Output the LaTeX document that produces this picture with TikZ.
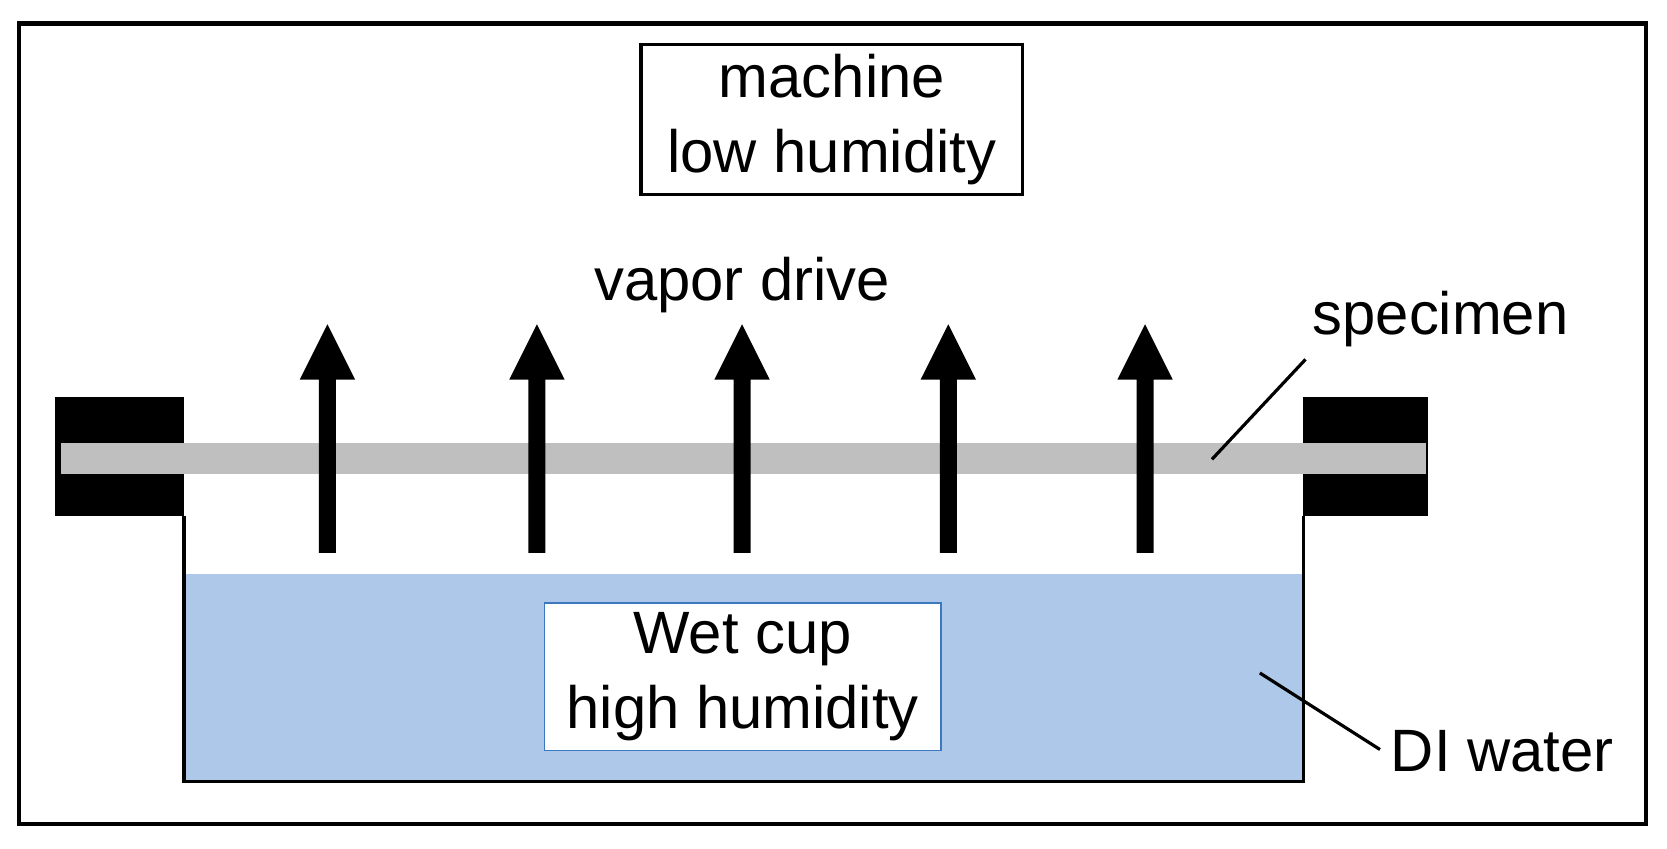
\documentclass[tikz,border=0pt]{standalone}
\usepackage{fontspec}
\setmainfont{Liberation Sans}
\begin{document}
\begin{tikzpicture}[x=0.02cm,y=-0.02cm,
  lbl/.style={font=\fontsize{32}{40}\selectfont,align=center,inner sep=0pt},
  water/.style={fill={rgb,255:red,173;green,200;blue,232}}]
\useasboundingbox (0,0) rectangle (1568,798);
\draw[line width=4*0.567pt] (18,22) rectangle (1548,775);
% water and cup
\fill[water] (173,540) rectangle (1226,735);
\draw[line width=3*0.567pt] (173,485) -- (173,735) -- (1226,735) -- (1226,485);
% clamps
\fill (52,373) rectangle (173,485);
\fill (1226,373) rectangle (1343,485);
% specimen
\fill[gray!50] (57,417) rectangle (1341,446);
% arrows
\foreach \x in {308,505,698,892,1077}{
  \fill (\x-8,520) -- (\x-8,357) -- (\x-26,357) -- (\x,305) -- (\x+26,357) -- (\x+8,357) -- (\x+8,520) -- cycle;
}
\node[draw,line width=3*0.567pt,minimum width=359*0.02cm,minimum height=141*0.02cm,lbl] (machine) at (782.5,112.5) {machine\\low humidity};
\node[lbl] (vapor) at (698,268) {vapor drive};
\node[lbl] (spec) at (1355,300) {specimen};
\node[draw={rgb,255:red,60;green,120;blue,190},fill=white,line width=1.5*0.567pt,minimum width=373*0.02cm,minimum height=139*0.02cm,lbl] (wet) at (698.5,636.5) {Wet cup\\high humidity};
\node[lbl,anchor=west] (di) at (1308,707) {DI water};
\coordinate (specend) at (1140,432);
\coordinate (waterend) at (1185,633);
\draw[line width=3*0.567pt] (1228,338) -- (specend);
\draw[line width=3*0.567pt] (1298,705) -- (waterend);
\end{tikzpicture}
\end{document}
